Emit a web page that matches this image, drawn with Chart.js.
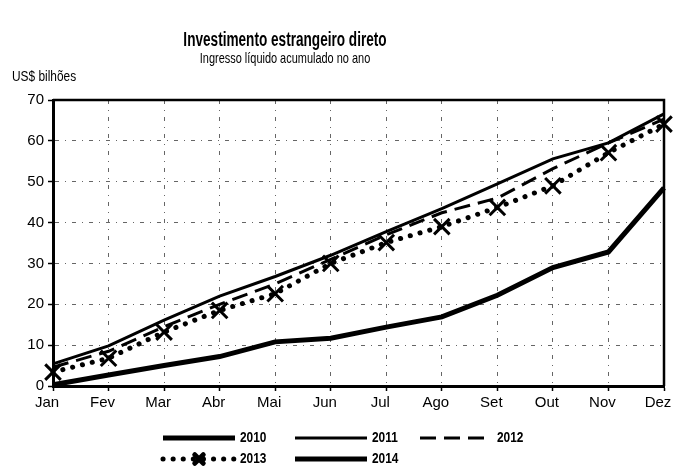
<!DOCTYPE html>
<html>
<head>
<meta charset="utf-8">
<script src="https://cdn.jsdelivr.net/npm/chart.js@4.4.1/dist/chart.umd.min.js"></script>
<style>
  html, body { margin: 0; padding: 0; background: #fff; }
  #wrap { width: 688px; height: 476px; }
</style>
</head>
<body>
<div id="wrap"><canvas id="fdi-chart" width="688" height="476"></canvas></div>
<script>
const months = ['Jan', 'Fev', 'Mar', 'Abr', 'Mai', 'Jun', 'Jul', 'Ago', 'Set', 'Out', 'Nov', 'Dez'];
const yTicks = [0, 10, 20, 30, 40, 50, 60, 70];

const v2010 = [0.3, 2.7, 5.0, 7.2, 10.8, 11.7, 14.4, 16.9, 22.2, 29.0, 32.8, 48.5];
const v2011 = [5.4, 9.8, 16.1, 22.0, 26.8, 32.0, 37.8, 43.4, 49.5, 55.6, 59.5, 66.6];
const v2012 = [4.6, 8.5, 14.5, 20.0, 25.0, 31.0, 37.0, 42.4, 46.0, 53.2, 59.5, 65.3];
const v2013 = [3.4, 6.8, 13.2, 18.5, 22.6, 30.0, 35.1, 39.0, 43.7, 49.0, 57.1, 64.1];
const v2014 = [4.2];

const FONT = '"Liberation Sans", Arial, sans-serif';

const gridStyle = {
    color: '#666',
    lineWidth: 1,
    tickLength: 5,
    tickColor: '#000',
    tickBorderDash: [],
    tickWidth: 1.5
};
// in v4 the grid line dash lives under border
const borderStyle = { display: true, color: '#000', width: 3, dash: [4, 6, 1, 6] };

// narrow text like the original print
function narrowText(ctx, text, x, y, font, squeeze) {
    ctx.save();
    ctx.font = font;
    ctx.translate(x, y);
    ctx.scale(squeeze, 1);
    ctx.fillText(text, 0, 0);
    ctx.restore();
}

// title, unit label, frame and legend
const decorations = {
    id: 'decorations',
    afterDraw(chart) {
        const ctx = chart.ctx;
        const area = chart.chartArea;
        ctx.save();
        ctx.fillStyle = '#000';
        ctx.textBaseline = 'middle';
        ctx.textAlign = 'center';
        narrowText(ctx, 'Investimento estrangeiro direto', 285, 40, 'bold 20px ' + FONT, 0.68);
        narrowText(ctx, 'Ingresso líquido acumulado no ano', 285, 59, '15px ' + FONT, 0.73);
        ctx.textAlign = 'left';
        narrowText(ctx, 'US$ bilhões', 12, 77, '14px ' + FONT, 0.85);

        // top and right frame
        ctx.strokeStyle = '#000';
        ctx.lineWidth = 2.5;
        ctx.beginPath();
        ctx.moveTo(area.left, area.top);
        ctx.lineTo(area.right, area.top);
        ctx.lineTo(area.right, area.bottom);
        ctx.stroke();

        // legend in two rows
        const slots = [[163, 438], [295, 438], [420, 438], [163, 459], [295, 459]];
        chart.data.datasets.forEach((ds, i) => {
            const [x, y] = slots[i];
            ctx.save();
            ctx.strokeStyle = '#000';
            ctx.lineWidth = ds.borderWidth;
            ctx.lineCap = ds.borderCapStyle || 'butt';
            ctx.setLineDash(ds.borderDash || []);
            ctx.beginPath();
            ctx.moveTo(x, y);
            ctx.lineTo(x + 72, y);
            ctx.stroke();
            if (ds.pointRadius > 0) {
                ctx.setLineDash([]);
                Chart.helpers.drawPoint(ctx, {
                    pointStyle: ds.pointStyle, radius: 6, rotation: 0, borderWidth: 2.5
                }, x + 36, y);
            }
            ctx.restore();
            ctx.textAlign = 'left';
            narrowText(ctx, ds.label, x + 77, y, 'bold 14px ' + FONT, 0.85);
        });
        ctx.restore();
    }
};

const fdiElement = document.getElementById('fdi-chart').getContext('2d');
const fdiChart = new Chart(fdiElement, {
    type: 'line',
    data: {
        labels: months,
        datasets: [{
            label: '2010',
            data: v2010,
            borderColor: '#000',
            borderWidth: 5,
            pointRadius: 0,
            clip: false
        }, {
            label: '2011',
            data: v2011,
            borderColor: '#000',
            borderWidth: 3,
            pointRadius: 0,
            clip: false
        }, {
            label: '2012',
            data: v2012,
            borderColor: '#000',
            borderWidth: 3,
            borderDash: [16, 8],
            pointRadius: 0,
            clip: false
        }, {
            label: '2013',
            data: v2013,
            borderColor: '#000',
            borderWidth: 5,
            borderDash: [0.1, 10],
            borderCapStyle: 'round',
            pointStyle: 'crossRot',
            pointRadius: 11,
            pointBorderWidth: 3,
            pointBorderColor: '#000',
            pointBackgroundColor: '#000',
            clip: false
        }, {
            label: '2014',
            data: v2014,
            borderColor: '#000',
            borderWidth: 5,
            pointRadius: 0,
            clip: false
        }]
    },
    options: {
        responsive: false,
        animation: false,
        events: [],
        layout: {
            padding: { top: 100, right: 24, bottom: 60, left: 0 }
        },
        plugins: {
            legend: { display: false },
            title: { display: false },
            tooltip: { enabled: false }
        },
        scales: {
            x: {
                offset: false,
                grid: gridStyle,
                border: borderStyle,
                ticks: {
                    color: '#000',
                    font: { family: FONT, size: 15 },
                    maxRotation: 0,
                    autoSkip: false,
                    padding: 3,
                    labelOffset: -6
                },
                afterFit: (scale) => { scale.height = 30; }
            },
            y: {
                min: 0,
                max: 70,
                afterBuildTicks: (scale) => { scale.ticks = yTicks.map(v => ({ value: v })); },
                grid: gridStyle,
                border: borderStyle,
                ticks: {
                    color: '#000',
                    font: { family: FONT, size: 15 },
                    padding: 4
                },
                afterFit: (scale) => { scale.width = 53; }
            }
        }
    },
    plugins: [decorations]
});
</script>
</body>
</html>
